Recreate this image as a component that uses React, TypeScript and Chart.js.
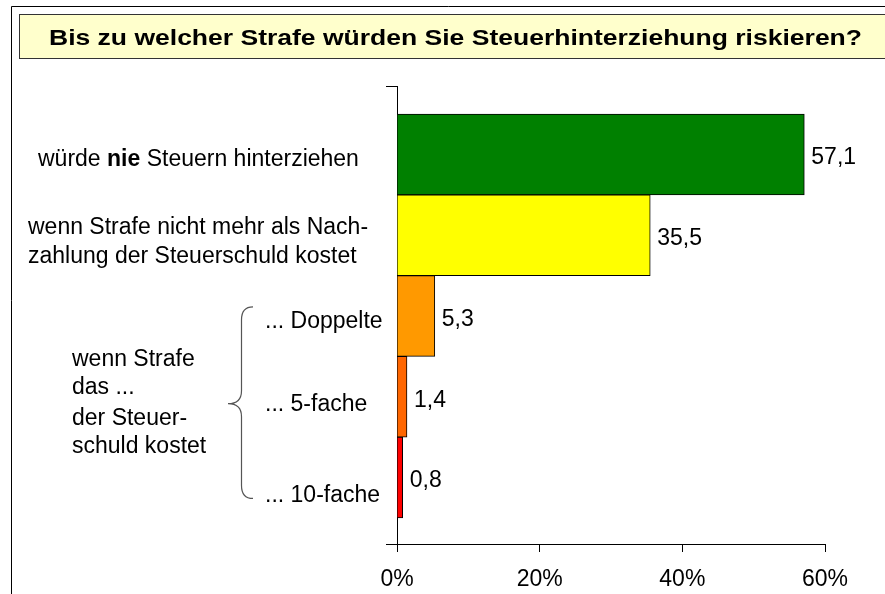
import React, { useEffect, useRef } from "react";
import { Chart, registerables } from "chart.js";

Chart.register(...registerables);

const title = "Bis zu welcher Strafe würden Sie Steuerhinterziehung riskieren?";
const categories = [
  "würde nie Steuern hinterziehen",
  "wenn Strafe nicht mehr als Nachzahlung der Steuerschuld kostet",
  "... Doppelte",
  "... 5-fache",
  "... 10-fache",
];
const values = [57.1, 35.5, 5.3, 1.4, 0.8];
const valueLabels = ["57,1", "35,5", "5,3", "1,4", "0,8"];
const barColors = ["#008000", "#FFFF00", "#FF9900", "#FF6600", "#FF0000"];
const groupLabel = ["wenn Strafe", "das ...", "der Steuer-", "schuld kostet"];
const xTicks = [0, 20, 40, 60];

const FONT = "'Liberation Sans', Arial, sans-serif";

const overlay = {
  id: "overlay",
  beforeDraw(chart: any) {
    const ctx = chart.ctx;
    ctx.save();
    ctx.fillStyle = "#ffffff";
    ctx.fillRect(0, 0, chart.width, chart.height);
    // outer frame
    ctx.strokeStyle = "#000";
    ctx.lineWidth = 1;
    ctx.beginPath();
    ctx.moveTo(11.5, chart.height);
    ctx.lineTo(11.5, 6.5);
    ctx.lineTo(chart.width, 6.5);
    ctx.stroke();
    // title box
    ctx.fillStyle = "#FFFFCC";
    ctx.fillRect(19.5, 14.5, chart.width, 44);
    ctx.strokeStyle = "#333";
    ctx.strokeRect(19.5, 14.5, chart.width, 44);
    ctx.fillStyle = "#000";
    ctx.font = `bold 22px ${FONT}`;
    ctx.textBaseline = "alphabetic";
    ctx.textAlign = "left";
    const w = ctx.measureText(title).width;
    const sx = 813 / w;
    ctx.translate(49, 45);
    ctx.scale(sx, 1);
    ctx.fillText(title, 0, 0);
    ctx.restore();
  },
  afterDraw(chart: any) {
    const ctx = chart.ctx;
    const ys = chart.scales.y;
    const xs = chart.scales.x;
    const c = (i: number) => ys.getPixelForValue(i);
    ctx.save();
    ctx.fillStyle = "#000";
    ctx.textAlign = "left";
    ctx.textBaseline = "alphabetic";
    // category 0 with bold "nie"
    const parts: [string, boolean][] = [["würde ", false], ["nie", true], [" Steuern hinterziehen", false]];
    let x = 38;
    for (const [t, b] of parts) {
      ctx.font = `${b ? "bold " : ""}23px ${FONT}`;
      ctx.fillText(t, x, c(0) + 12);
      x += ctx.measureText(t).width;
    }
    ctx.font = `23px ${FONT}`;
    ctx.fillText("wenn Strafe nicht mehr als Nach-", 28, c(1) - 1);
    ctx.fillText("zahlung der Steuerschuld kostet", 28, c(1) + 28);
    ctx.fillText(categories[2], 265, c(2) + 12.5);
    ctx.fillText(categories[3], 265, c(3) + 14);
    ctx.fillText(categories[4], 265, c(4) + 25);
    // group label
    const gy = [366, 394, 425, 453];
    groupLabel.forEach((t, i) => ctx.fillText(t, 72, gy[i]));
    // brace
    const top = c(2) - 9;
    const mid = c(3) + 7;
    const bot = c(4) + 21;
    const bx = 241.5;
    ctx.strokeStyle = "#555";
    ctx.lineWidth = 1.2;
    ctx.beginPath();
    ctx.moveTo(253, top);
    ctx.quadraticCurveTo(bx, top, bx, top + 13);
    ctx.lineTo(bx, mid - 13);
    ctx.quadraticCurveTo(bx, mid, 228, mid);
    ctx.quadraticCurveTo(bx, mid, bx, mid + 13);
    ctx.lineTo(bx, bot - 13);
    ctx.quadraticCurveTo(bx, bot, 253, bot);
    ctx.stroke();
    // value labels
    ctx.fillStyle = "#000";
    ctx.font = `23px ${FONT}`;
    values.forEach((v, i) => {
      ctx.fillText(valueLabels[i], xs.getPixelForValue(v) + 7, c(i) + 10);
    });
    ctx.restore();
  },
};

export default function App() {
  const ref = useRef<HTMLCanvasElement>(null);
  useEffect(() => {
    if (!ref.current) return;
    const chart = new Chart(ref.current, {
      type: "bar",
      data: {
        datasets: [
          {
            data: values.map((v, i) => ({ x: v, y: i })),
            backgroundColor: barColors,
            borderColor: "#000",
            borderWidth: 1,
            barPercentage: 1,
            categoryPercentage: 1,
          },
        ],
      },
      options: {
        indexAxis: "y",
        animation: false,
        responsive: false,
        layout: { padding: { top: 86, right: 60, bottom: 0, left: 0 } },
        plugins: { legend: { display: false }, tooltip: { enabled: false }, title: { display: false } },
        scales: {
          x: {
            type: "linear",
            min: 0,
            max: 60,
            offset: false,
            afterBuildTicks: (s: any) => {
              s.ticks = xTicks.map((v) => ({ value: v }));
            },
            afterFit: (s: any) => {
              s.height = 50;
            },
            ticks: {
              callback: (v: any) => v + "%",
              font: { family: FONT, size: 23 },
              color: "#000",
              padding: 14,
            },
            grid: { drawOnChartArea: false, tickLength: 8, color: "#000" },
            border: { color: "#000" },
          },
          y: {
            type: "linear",
            reverse: true,
            offset: false,
            min: -0.848,
            max: 4.824,
            afterBuildTicks: (s: any) => {
              s.ticks = [{ value: s.min }, { value: s.max }];
            },
            afterFit: (s: any) => {
              s.width = 397;
            },
            ticks: { display: false },
            grid: { drawOnChartArea: false, tickLength: 11, color: "#000", offset: false },
            border: { color: "#000" },
          },
        },
      },
      plugins: [overlay],
    } as any);
    return () => chart.destroy();
  }, []);
  return (
    <div style={{ position: "absolute", left: 0, top: 0, width: 885, height: 594 }}>
      <canvas ref={ref} width={885} height={594} style={{ display: "block" }} />
    </div>
  );
}
